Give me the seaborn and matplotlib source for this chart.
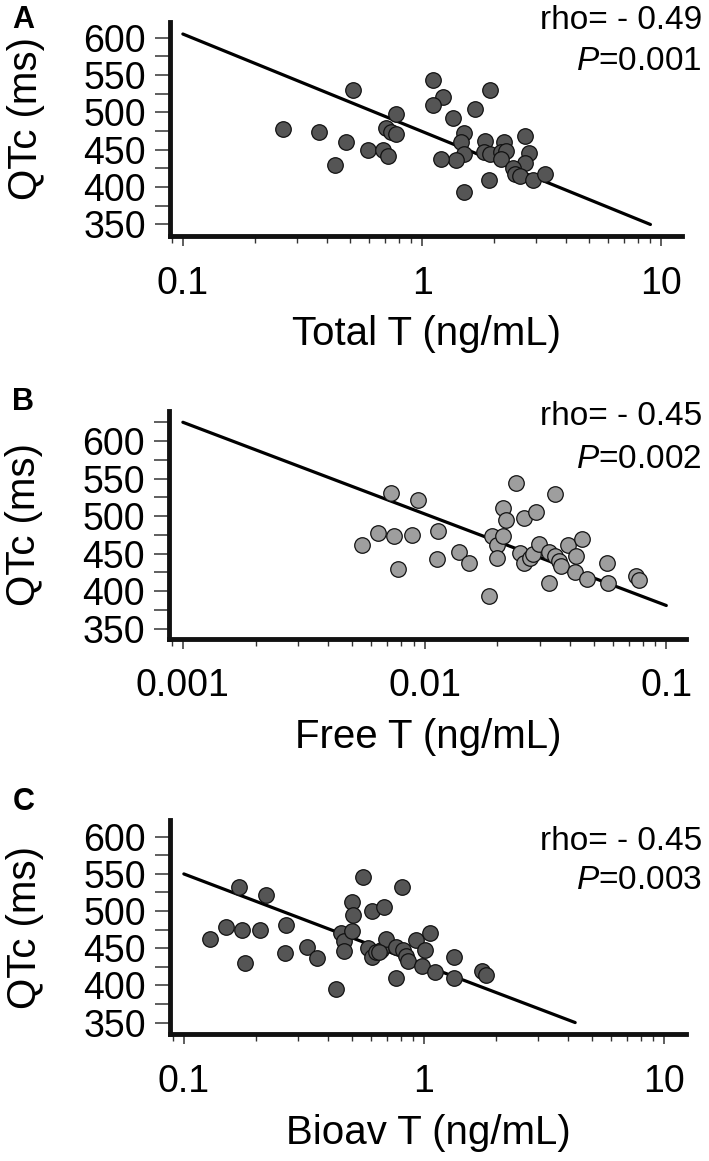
import numpy as np
import pandas as pd
import matplotlib
matplotlib.use("Agg")
import matplotlib.pyplot as plt
import seaborn as sns
from matplotlib.ticker import LogLocator, MultipleLocator, FixedLocator, FuncFormatter, NullFormatter

sns.set_style("ticks")
plt.rcParams['font.family'] = ['Liberation Sans', 'DejaVu Sans']
plt.rcParams['text.color'] = 'black'
plt.rcParams['mathtext.fontset'] = 'custom'
plt.rcParams['mathtext.it'] = 'Liberation Sans:italic'
plt.rcParams['mathtext.rm'] = 'Liberation Sans'

# panel A: total testosterone
total_t = [0.261, 0.372, 0.513, 0.481, 0.432, 0.593, 0.685, 0.723, 0.708, 0.743,
           0.778, 0.778, 1.11, 1.22, 1.11, 1.34, 1.67, 1.92, 1.50, 1.46,
           1.50, 1.39, 1.20, 1.50, 1.84, 1.82, 1.92, 1.90, 2.20, 2.13,
           2.25, 2.14, 2.70, 2.81, 2.68, 2.40, 2.44, 2.56, 2.91, 3.26]
qtc_a = [478, 474, 530, 460, 429, 450, 450, 442, 479, 474,
         471, 498, 543, 521, 510, 493, 504, 530, 472, 460,
         444, 436, 437, 394, 462, 447, 444, 410, 461, 447,
         448, 437, 469, 446, 432, 426, 418, 415, 410, 418]
fit_a_x = [0.1, 9.0]
fit_a_y = [605, 350]

# panel B: free testosterone
free_t = [0.00553, 0.00644, 0.00724, 0.0075, 0.00773, 0.00891, 0.0094, 0.0114, 0.0113, 0.01387,
          0.01525, 0.01853, 0.0190, 0.0200, 0.01987, 0.0212, 0.0217, 0.0212, 0.0238, 0.0258,
          0.0247, 0.0258, 0.0272, 0.0281, 0.0290, 0.0296, 0.0326, 0.0327, 0.0345, 0.0347,
          0.0360, 0.0367, 0.0392, 0.0419, 0.0424, 0.0447, 0.0472, 0.0568, 0.0572, 0.0751, 0.0774]
qtc_b = [461, 478, 531, 474, 430, 475, 521, 480, 443, 452,
         438, 394, 473, 461, 444, 511, 495, 474, 544, 498,
         451, 438, 444, 449, 505, 463, 452, 411, 530, 447,
         440, 433, 462, 426, 447, 470, 416, 438, 411, 420, 415]
fit_b_x = [0.001, 0.1]
fit_b_y = [625, 381]

# panel C: bioavailable testosterone
bioav_t = [0.129, 0.150, 0.169, 0.174, 0.180, 0.207, 0.219, 0.267, 0.265, 0.327,
           0.358, 0.432, 0.451, 0.467, 0.465, 0.502, 0.509, 0.502, 0.556, 0.607,
           0.586, 0.607, 0.634, 0.662, 0.683, 0.698, 0.762, 0.762, 0.813, 0.820,
           0.842, 0.857, 0.927, 0.980, 1.01, 1.057, 1.112, 1.33, 1.34, 1.745, 1.82, 0.650]
qtc_c = [462, 479, 532, 474, 430, 475, 522, 481, 444, 451,
         437, 395, 471, 460, 446, 512, 495, 473, 546, 500,
         450, 438, 445, 448, 505, 462, 451, 410, 532, 448,
         439, 433, 461, 426, 448, 471, 418, 438, 410, 419, 414, 445]
fit_c_x = [0.1, 4.27]
fit_c_y = [550, 350]

panels = [
    dict(letter="A", x=total_t, y=qtc_a, fx=fit_a_x, fy=fit_a_y, xlabel="Total T (ng/mL)",
         rho="rho= - 0.49", p="0.001", color="#555555",
         rect=[0.240, 0.797, 0.722, 0.184], xlim=(0.0885, 12.2), ylim=(335, 621),
         xticks=[0.1, 1, 10], letter_y=0.983, rho_y=0.982, p_y=0.947, ylab_y=0.55),
    dict(letter="B", x=free_t, y=qtc_b, fx=fit_b_x, fy=fit_b_y, xlabel="Free T (ng/mL)",
         rho="rho= - 0.45", p="0.002", color="#9e9e9e",
         rect=[0.239, 0.450, 0.729, 0.196], xlim=(0.00088, 0.121), ylim=(337, 640),
         xticks=[0.001, 0.01, 0.1], letter_y=0.654, rho_y=0.641, p_y=0.604, ylab_y=0.5),
    dict(letter="C", x=bioav_t, y=qtc_c, fx=fit_c_x, fy=fit_c_y, xlabel="Bioav T (ng/mL)",
         rho="rho= - 0.45", p="0.003", color="#555555",
         rect=[0.240, 0.109, 0.728, 0.185], xlim=(0.0877, 12.4), ylim=(334, 623),
         xticks=[0.1, 1, 10], letter_y=0.309, rho_y=0.275, p_y=0.242, ylab_y=0.5),
]

fig = plt.figure(figsize=(7.09, 11.61), dpi=100)

for pn in panels:
    ax = fig.add_axes(pn["rect"])
    ax.set_xscale("log")
    df = pd.DataFrame({"x": pn["x"], "y": pn["y"]})
    sns.lineplot(x=pn["fx"], y=pn["fy"], color="black", linewidth=2.3, ax=ax)
    sns.scatterplot(data=df, x="x", y="y", s=125, color=pn["color"],
                    edgecolor="#111111", linewidth=0.9, ax=ax, zorder=3)
    ax.set_xlim(*pn["xlim"])
    ax.set_ylim(*pn["ylim"])

    ax.xaxis.set_major_locator(FixedLocator(pn["xticks"]))
    ax.xaxis.set_major_formatter(FuncFormatter(lambda v, _: "{:g}".format(v)))
    ax.xaxis.set_minor_locator(LogLocator(base=10, subs=np.arange(2, 10), numticks=20))
    ax.xaxis.set_minor_formatter(NullFormatter())
    ax.yaxis.set_major_locator(FixedLocator([350, 400, 450, 500, 550, 600]))
    ax.yaxis.set_minor_locator(MultipleLocator(25))

    sns.despine(ax=ax)
    for side in ["left", "bottom"]:
        ax.spines[side].set_linewidth(3.5)
        ax.spines[side].set_color("#111111")

    ax.tick_params(axis="y", which="both", length=10.5, width=1.1, color="#333333",
                   labelsize=27, pad=7, labelcolor="black")
    ax.tick_params(axis="x", which="major", length=7.5, width=1.1, color="#333333",
                   labelsize=27, pad=14, labelcolor="black")
    ax.tick_params(axis="x", which="minor", length=5, width=1.0, color="#333333")

    ax.set_xlabel(pn["xlabel"], fontsize=29, labelpad=10, color="black")
    ax.set_ylabel("QTc (ms)", fontsize=29, color="black")
    ax.yaxis.set_label_coords(-0.245, pn["ylab_y"])

    fig.text(0.033, pn["letter_y"], pn["letter"], fontsize=22, fontweight="bold",
             ha="center", va="center", color="black")
    fig.text(0.99, pn["rho_y"], pn["rho"], fontsize=24, ha="right", va="center", color="black")
    fig.text(0.99, pn["p_y"], r"$\it{P}$=" + pn["p"], fontsize=24, ha="right", va="center",
             color="black")

fig.savefig("out.png", dpi=100)
